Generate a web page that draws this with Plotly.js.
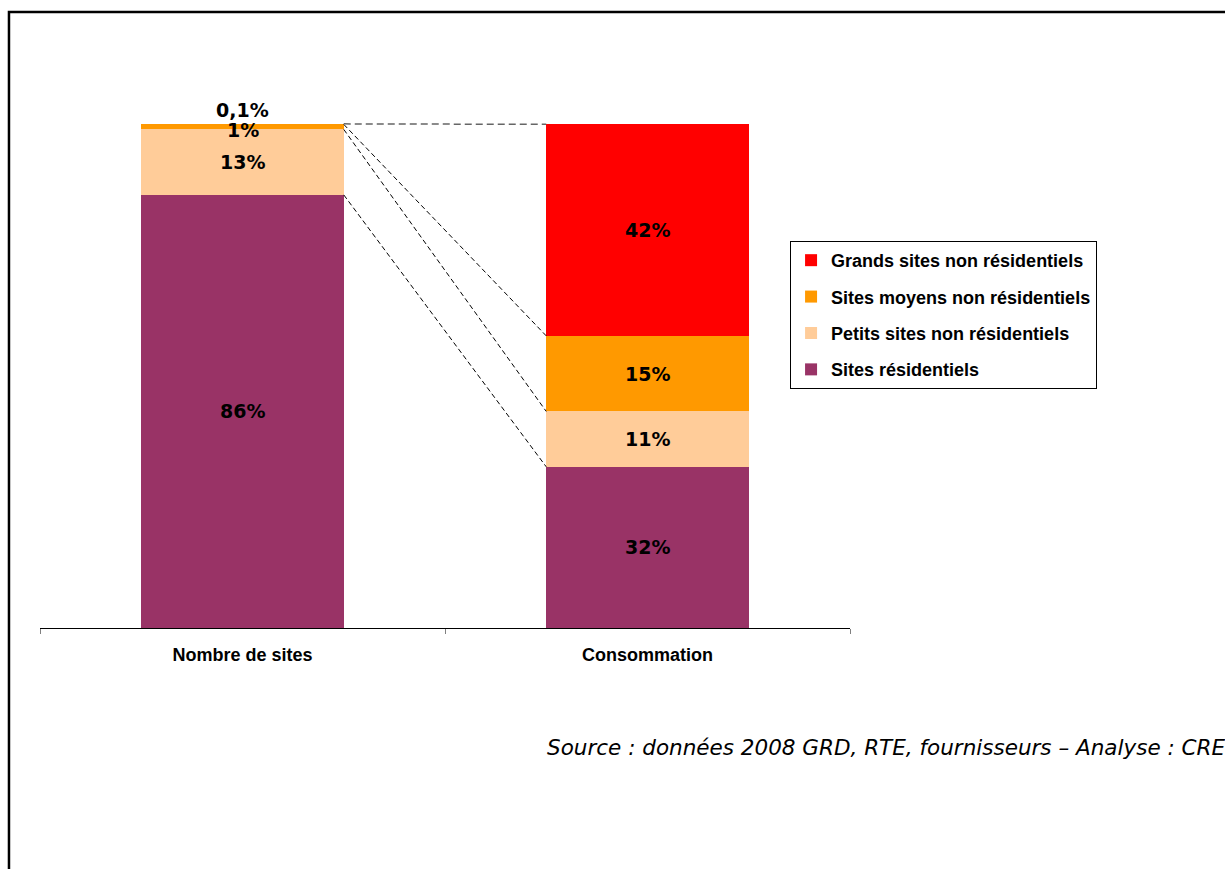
<!DOCTYPE html>
<html>
<head>
<meta charset="utf-8">
<script src="https://cdn.plot.ly/plotly-3.0.1.min.js"></script>
<style>html,body{margin:0;padding:0;background:#fff;} #chart{width:1225px;height:869px;}</style>
</head>
<body>
<div id="chart"></div>
<script>
// ---- data ----
const categories = ['Nombre de sites', 'Consommation'];
const seriesNames = ['Sites résidentiels', 'Petits sites non résidentiels', 'Sites moyens non résidentiels', 'Grands sites non résidentiels'];
const residentiels = [86, 32];
const petitsSites = [13, 11];
const moyensSites = [1, 15];
const grandsSites = [0.1, 42];
const sourceText = 'Source : données 2008 GRD, RTE, fournisseurs – Analyse : CRE';

// ---- styles ----
const colors = ['#993366', '#FFCC99', '#FF9900', '#FF0000'];
const barWidth = 0.5;
const series = [residentiels, petitsSites, moyensSites, grandsSites];

const traces = [];
const annotations = [];
const bottoms = [0, 0];
series.forEach((vals, i) => {
  traces.push({
    type: 'bar', x: categories, y: vals, name: seriesNames[i],
    marker: {color: colors[i], line: {width: 0}}, width: barWidth,
    legendgroup: 'g' + i, legendrank: series.length - i,
    textposition: 'none', hoverinfo: 'name+y'
  });
  vals.forEach((v, j) => {
    const label = String(v).replace('.', ',') + '%';
    const a = {x: categories[j], y: bottoms[j] + v / 2, xref: 'x', yref: 'y', text: label,
      showarrow: false, font: {family: 'DejaVu Sans, Verdana, sans-serif', size: 19, weight: 'bold', color: '#000'}};
    if (v < 0.5) { a.y = bottoms[j] + v; a.yanchor = 'bottom'; a.yshift = 1; }
    else if (v < 3) { a.yshift = -3; }
    annotations.push(a);
  });
  bottoms[0] += vals[0];
  bottoms[1] += vals[1];
});

// connector lines between tops of segments
const tops = [0, 0];
series.forEach((vals, i) => {
  tops[0] += vals[0];
  tops[1] += vals[1];
  const isTop = i === series.length - 1;
  traces.push({
    type: 'scatter', mode: 'lines', xaxis: 'x2', yaxis: 'y',
    x: [barWidth / 2, 1 - barWidth / 2], y: [tops[0], tops[1]],
    line: {color: isTop ? '#666666' : '#000000', width: isTop ? 1.5 : 1, dash: isTop ? '7px,4px' : '5px,3px'},
    showlegend: false, hoverinfo: 'skip'
  });
});

annotations.push({
  xref: 'paper', yref: 'paper', x: 0.624, y: -0.215, xanchor: 'left', yanchor: 'middle',
  text: sourceText, showarrow: false,
  font: {family: 'DejaVu Sans, Verdana, sans-serif', size: 21.5, style: 'italic', color: '#000'}
});

const layout = {
  width: 1225, height: 869, autosize: false,
  margin: {l: 40, r: 375, t: 74, b: 241, pad: 0},
  paper_bgcolor: '#ffffff', plot_bgcolor: '#ffffff',
  barmode: 'stack', bargap: 0.5,
  showlegend: true,
  legend: {
    x: 0.926, y: 0.6986, xanchor: 'left', yanchor: 'top',
    bordercolor: '#000000', borderwidth: 1, bgcolor: '#ffffff',
    traceorder: 'grouped', tracegroupgap: 10,
    font: {family: 'Liberation Sans, Arial, sans-serif', size: 18, weight: 'bold', color: '#000'}
  },
  xaxis: {
    type: 'category', range: [-0.5, 1.5], fixedrange: true,
    showline: true, linecolor: '#000000', linewidth: 1,
    ticks: 'outside', tickson: 'boundaries', ticklen: 5, tickcolor: '#808080', tickwidth: 1,
    showgrid: false, zeroline: false, ticklabelstandoff: 10,
    tickfont: {family: 'Liberation Sans, Arial, sans-serif', size: 18, weight: 'bold', color: '#000'}
  },
  xaxis2: {overlaying: 'x', anchor: 'y', range: [-0.5, 1.5], visible: false, fixedrange: true},
  yaxis: {range: [0, 110], visible: false, fixedrange: true},
  annotations: annotations,
  shapes: [{
    type: 'path', xref: 'paper', yref: 'paper',
    path: 'M -0.0383 -0.5 L -0.0383 1.1119 L 1.5 1.1119',
    line: {color: '#000000', width: 2.5}
  }]
};

Plotly.newPlot('chart', traces, layout, {displayModeBar: false, staticPlot: true});
</script>
</body>
</html>
